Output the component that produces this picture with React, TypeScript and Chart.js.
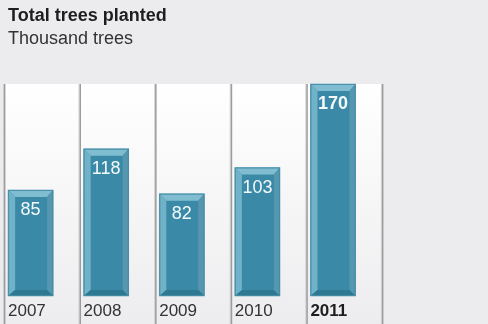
import React, { useEffect, useRef } from "react";
import { Chart, registerables } from "chart.js";

Chart.register(...registerables);

const TITLE = "Total trees planted";
const SUBTITLE = "Thousand trees";
const YEARS = ["2007", "2008", "2009", "2010", "2011"];
const TREES = [85, 118, 82, 103, 170];
const HIGHLIGHT_INDEX = 4;
const Y_MAX = 170;

const FONT = "'Liberation Sans', Arial, Helvetica, sans-serif";
const BG = "#ECECEE";
const FACE = "#3A8AA7";

const PANEL_LEFT_FROM_CENTER = 26.2;

const bgPlugin = {
  id: "panels",
  beforeDraw(chart: any) {
    const { ctx, width, height, chartArea } = chart;
    const x = chart.scales.x;
    ctx.save();
    ctx.fillStyle = BG;
    ctx.fillRect(0, 0, width, height);
    const n = YEARS.length;
    const W = x.getPixelForValue(1) - x.getPixelForValue(0);
    const top = chartArea.top;
    const grad = ctx.createLinearGradient(0, top, 0, height);
    grad.addColorStop(0, "#FFFFFF");
    grad.addColorStop(1, "#EDEDEF");
    const bounds: number[] = [];
    for (let i = 0; i < n; i++) {
      const left = x.getPixelForValue(i) - PANEL_LEFT_FROM_CENTER;
      bounds.push(left);
      ctx.fillStyle = grad;
      ctx.fillRect(left, top, W, height - top);
    }
    bounds.push(bounds[n - 1] + W);
    for (const b of bounds) {
      ctx.fillStyle = "#D2D2D4";
      ctx.fillRect(b - 1.5, top, 1, height - top);
      ctx.fillStyle = "#9C9C9E";
      ctx.fillRect(b - 0.5, top, 1.5, height - top);
    }
    ctx.restore();
  },
};

const titlePlugin = {
  id: "titles",
  afterDraw(chart: any) {
    const { ctx } = chart;
    ctx.save();
    ctx.textAlign = "left";
    ctx.textBaseline = "alphabetic";
    ctx.fillStyle = "#1E1E1E";
    ctx.font = `bold 18px ${FONT}`;
    ctx.fillText(TITLE, 8, 20.5);
    ctx.fillStyle = "#333333";
    ctx.font = `18px ${FONT}`;
    ctx.fillText(SUBTITLE, 8, 43.5);
    ctx.restore();
  },
};

const bevelPlugin = {
  id: "bevels",
  afterDatasetsDraw(chart: any) {
    const { ctx } = chart;
    const meta = chart.getDatasetMeta(0);
    ctx.save();
    meta.data.forEach((bar: any, i: number) => {
      const { x, y, base, width } = bar.getProps(["x", "y", "base", "width"], true);
      const l = x - width / 2;
      const r = x + width / 2;
      const t = y;
      const b = base;
      const bl = 7, bt = 7, br = 6, bb = 6;
      const poly = (pts: number[][], color: string) => {
        ctx.beginPath();
        ctx.moveTo(pts[0][0], pts[0][1]);
        for (let k = 1; k < pts.length; k++) ctx.lineTo(pts[k][0], pts[k][1]);
        ctx.closePath();
        ctx.fillStyle = color;
        ctx.fill();
      };
      poly([[l, t], [r, t], [r - br, t + bt], [l + bl, t + bt]], "#80BDD0");
      poly([[l, t], [l + bl, t + bt], [l + bl, b - bb], [l, b]], "#70B2C7");
      poly([[r, t], [r, b], [r - br, b - bb], [r - br, t + bt]], "#5597AF");
      poly([[l, b], [l + bl, b - bb], [r - br, b - bb], [r, b]], "#2E7891");
      ctx.strokeStyle = "rgba(70,140,165,0.9)";
      ctx.lineWidth = 1;
      ctx.strokeRect(l + 0.5, t + 0.5, width - 1, b - t - 1);

      ctx.fillStyle = "#F4FAFC";
      ctx.textAlign = "center";
      ctx.textBaseline = "alphabetic";
      ctx.font = `${i === HIGHLIGHT_INDEX ? "bold " : ""}18px ${FONT}`;
      ctx.fillText(String(TREES[i]), x, t + 25);
    });
    ctx.restore();
  },
};

export default function App() {
  const ref = useRef<HTMLCanvasElement>(null);
  useEffect(() => {
    if (!ref.current) return;
    const chart = new Chart(ref.current, {
      type: "bar",
      data: {
        labels: YEARS,
        datasets: [
          {
            data: TREES,
            backgroundColor: FACE,
            borderWidth: 0,
            barThickness: 45,
            clip: false,
          },
        ],
      },
      options: {
        responsive: false,
        animation: false,
        layout: { padding: { left: 30.6, right: 155, top: 84, bottom: 0 } },
        plugins: { legend: { display: false }, tooltip: { enabled: false }, title: { display: false } },
        scales: {
          x: {
            type: "category",
            offset: false,
            grid: { display: false, drawTicks: false, offset: false },
            border: { display: false },
            afterFit: (scale: any) => {
              scale.height = 28;
            },
            ticks: {
              align: "start",
              labelOffset: -22.6,
              padding: 5,
              maxRotation: 0,
              autoSkip: false,
              color: (c: any) => (c.index === HIGHLIGHT_INDEX ? "#1E1E1E" : "#333333"),
              font: (c: any) => ({
                family: FONT,
                size: 17,
                weight: c.index === HIGHLIGHT_INDEX ? "bold" : "normal",
              }),
            },
          },
          y: { display: false, min: 0, max: Y_MAX },
        },
      },
      plugins: [bgPlugin, bevelPlugin, titlePlugin],
    } as any);
    return () => chart.destroy();
  }, []);
  return (
    <div style={{ position: "fixed", left: 0, top: 0, width: 488, height: 324 }}>
      <canvas ref={ref} width={488} height={324} style={{ display: "block" }} />
    </div>
  );
}
